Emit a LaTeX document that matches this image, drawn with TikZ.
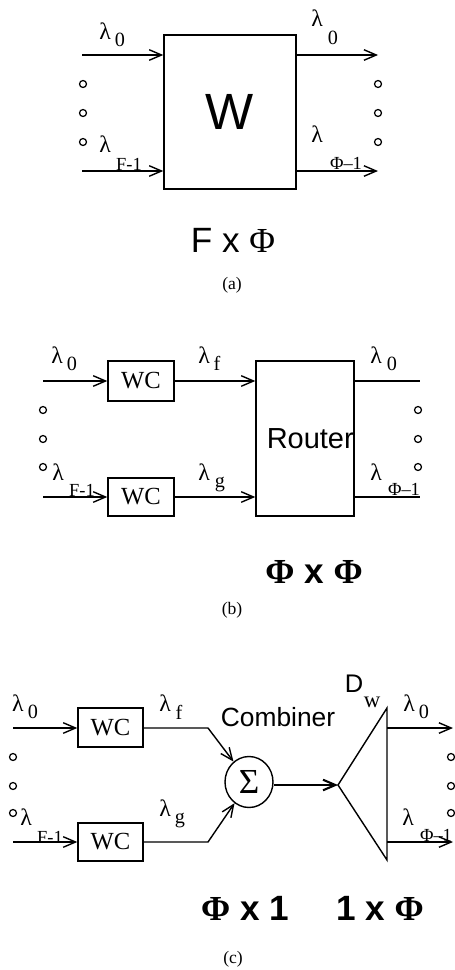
\documentclass[tikz,border=0pt]{standalone}
\usepackage{fontspec}
\setmainfont{Liberation Serif}
\setsansfont{Liberation Sans}
\usetikzlibrary{arrows.meta, positioning, shapes.geometric}

\begin{document}
\begin{tikzpicture}[
    x=0.02cm, y=-0.02cm,
    >={Straight Barb[length=7pt, width=6pt]},
    line width=0.8pt,
    % boxes
    big_box/.style={draw, inner sep=0pt},
    wc_box/.style={draw, minimum width=1.3cm, minimum height=0.78cm, inner sep=0pt, font=\fontsize{14}{14}\selectfont},
    % labels
    lam/.style={inner sep=0pt, font=\fontsize{13.5}{13.5}\selectfont},
    sub_label/.style={inner sep=0pt, font=\fontsize{11.5}{11.5}\selectfont},
    idx_label/.style={inner sep=0pt, font=\fontsize{10.5}{10.5}\selectfont},
    dot_mark/.style={circle, draw, line width=0.7pt, inner sep=0pt, minimum size=0.14cm},
    size_label/.style={inner sep=0pt, font=\sffamily\fontsize{20}{20}\selectfont},
    size_bold/.style={inner sep=0pt, font=\sffamily\bfseries\fontsize{20}{20}\selectfont},
    cap_label/.style={inner sep=0pt, font=\fontsize{10}{10}\selectfont}
]
    \useasboundingbox (0,0) rectangle (455,970);

    % --- (a) F x PHI SWITCH ---
    \node[big_box, minimum width=2.64cm, minimum height=3.08cm, font=\sffamily\fontsize{29}{29}\selectfont] (W) at (230,112) {W};
    \coordinate (a_in0) at (82,55);
    \coordinate (a_in1) at (82,171);
    \coordinate (a_out0) at (378,55);
    \coordinate (a_out1) at (378,171);
    \draw[->] (a_in0) -- (a_in0 -| W.west);
    \draw[->] (a_in1) -- (a_in1 -| W.west);
    \draw[->] (a_out0 -| W.east) -- (a_out0);
    \draw[->] (a_out1 -| W.east) -- (a_out1);
    \foreach \y in {84,113,142} {
        \node[dot_mark] (a_dl\y) at (83,\y) {};
        \node[dot_mark] (a_dr\y) at (378,\y) {};
    }
    \node[lam] (a_l0) at (105,31) {λ};
    \node[sub_label] (a_l0s) at (120,40) {0};
    \node[lam] (a_l1) at (105,144) {λ};
    \node[idx_label] (a_l1s) at (129,164) {F-1};
    \node[lam] (a_r0) at (317,18) {λ};
    \node[sub_label] (a_r0s) at (333,38) {0};
    \node[lam] (a_r1) at (317,134) {λ};
    \node[idx_label] (a_r1s) at (346,163) {Φ–1};
    \node[size_label] (a_size) at (233,240) {F x {\rmfamily Φ}};
    \node[cap_label] (a_cap) at (232,285) {(a)};

    % --- (b) WAVELENGTH CONVERTERS + ROUTER ---
    \node[wc_box, minimum width=1.32cm, minimum height=0.8cm] (b_wc0) at (141,381) {WC};
    \node[wc_box, minimum width=1.32cm, minimum height=0.76cm] (b_wc1) at (141,497) {WC};
    \node[big_box, minimum width=1.96cm, minimum height=3.1cm, font=\sffamily\fontsize{16.5}{16.5}\selectfont] (router) at (305,438.5) {\hspace{6pt}Router};
    \coordinate (b_in0) at (43,381);
    \coordinate (b_in1) at (43,497);
    \coordinate (b_out0) at (420,381);
    \coordinate (b_out1) at (420,497);
    \draw[->] (b_in0) -- (b_wc0.west);
    \draw[->] (b_in1) -- (b_wc1.west);
    \draw[->] (b_wc0.east) -- (b_wc0.east -| router.west);
    \draw[->] (b_wc1.east) -- (b_wc1.east -| router.west);
    \draw (b_out0 -| router.east) -- (b_out0);
    \draw (b_out1 -| router.east) -- (b_out1);
    \foreach \y in {410,439,467} {
        \node[dot_mark] (b_dl\y) at (43,\y) {};
        \node[dot_mark] (b_dr\y) at (418,\y) {};
    }
    \node[lam] (b_l0) at (57,355) {λ};
    \node[sub_label] (b_l0s) at (72,364) {0};
    \node[lam] (b_l1) at (58,472) {λ};
    \node[idx_label] (b_l1s) at (82,490) {F-1};
    \node[lam] (b_lf) at (204,355) {λ};
    \node[sub_label] (b_lfs) at (217,363) {f};
    \node[lam] (b_lg) at (204,472) {λ};
    \node[sub_label] (b_lgs) at (220,484) {g};
    \node[lam] (b_r0) at (376,355) {λ};
    \node[sub_label] (b_r0s) at (392,364) {0};
    \node[lam] (b_r1) at (376,472) {λ};
    \node[idx_label] (b_r1s) at (404,489) {Φ–1};
    \node[size_bold] (b_size) at (314,572) {{\rmfamily Φ} x {\rmfamily Φ}};
    \node[cap_label] (b_cap) at (232,610) {(b)};

    % --- (c) CONVERTERS + COMBINER + DEMUX ---
    \node[wc_box] (c_wc0) at (110.5,727.5) {WC};
    \node[wc_box, minimum height=0.76cm] (c_wc1) at (110.5,842) {WC};
    \node[draw, ellipse, minimum width=0.96cm, minimum height=1.02cm, inner sep=0pt, font=\fontsize{20}{20}\selectfont] (sigma) at (249,782) {Σ};
    \node[inner sep=0pt, font=\sffamily\fontsize{15}{15}\selectfont] (comb) at (278,717) {Combiner};
    \coordinate (c_in0) at (13,728);
    \coordinate (c_in1) at (13,842);
    \coordinate (c_k0) at (208,728);
    \coordinate (c_k1) at (208,842);
    \coordinate (dw_tip) at (338,785);
    \coordinate (dw_top) at (387,708);
    \coordinate (dw_bot) at (387,860);
    \coordinate (c_out0) at (453,728);
    \coordinate (c_out1) at (453,842);
    \draw[->] (c_in0) -- (c_wc0.west |- c_in0);
    \draw[->] (c_in1) -- (c_wc1.west);
    \draw[->] (c_wc0.east |- c_k0) -- (c_k0) -- (sigma);
    \draw[->] (c_wc1.east) -- (c_k1) -- (sigma);
    \draw[->, line width=1.2pt] (sigma.east |- dw_tip) -- (dw_tip);
    \draw (dw_tip) -- (dw_top) -- (dw_bot) -- cycle;
    \draw[->] (dw_top |- c_out0) -- (c_out0);
    \draw[->] (dw_top |- c_out1) -- (c_out1);
    \foreach \y in {757,786,813} {
        \node[dot_mark] (c_dl\y) at (13,\y) {};
        \node[dot_mark] (c_dr\y) at (451,\y) {};
    }
    \node[inner sep=0pt, font=\sffamily\fontsize{14.5}{14.5}\selectfont] (dw_d) at (354,684) {D};
    \node[inner sep=0pt, font=\fontsize{13}{13}\selectfont] (dw_w) at (372,702) {w};
    \node[lam] (c_l0) at (18,703) {λ};
    \node[sub_label] (c_l0s) at (33,712) {0};
    \node[lam] (c_l1) at (26,817) {λ};
    \node[idx_label] (c_l1s) at (50,837) {F-1};
    \node[lam] (c_lf) at (165,703) {λ};
    \node[sub_label] (c_lfs) at (179,712) {f};
    \node[lam] (c_lg) at (165,808) {λ};
    \node[sub_label] (c_lgs) at (180,820) {g};
    \node[lam] (c_r0) at (409,703) {λ};
    \node[sub_label] (c_r0s) at (424,712) {0};
    \node[lam] (c_r1) at (408,817) {λ};
    \node[idx_label] (c_r1s) at (436,835) {Φ–1};
    \node[size_bold] (c_size0) at (245,908) {{\rmfamily Φ} x 1};
    \node[size_bold] (c_size1) at (380,908) {1 x {\rmfamily Φ}};
    \node[cap_label] (c_cap) at (233,959) {(c)};

\end{tikzpicture}
\end{document}
